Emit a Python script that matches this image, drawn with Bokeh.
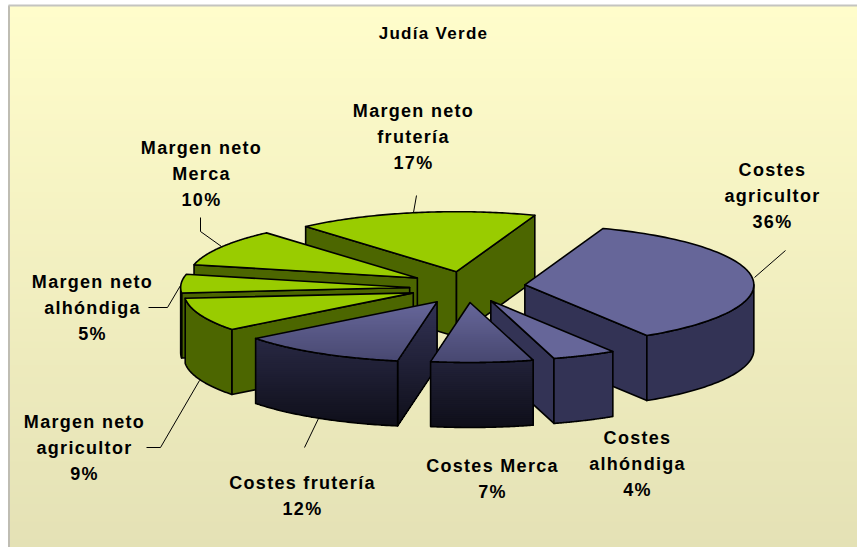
import numpy as np
from bokeh.plotting import figure
from bokeh.models import Range1d
from bokeh.core.properties import value
from bokeh.embed import file_html
from bokeh.resources import INLINE

# ---- data
categories = ["Costes agricultor", "Costes alhóndiga", "Costes Merca", "Costes frutería",
              "Margen neto agricultor", "Margen neto alhóndiga", "Margen neto Merca", "Margen neto frutería"]
values = [35.5, 4.5, 7.2, 11.8, 9, 5, 10, 17]
percent_labels = ["36%", "4%", "7%", "12%", "9%", "5%", "10%", "17%"]
title_text = "Judía Verde"

# ---- label layout (line breaks as in the chart)
label_lines = [["Costes", "agricultor"], ["Costes", "alhóndiga"], ["Costes Merca"], ["Costes frutería"],
               ["Margen neto", "agricultor"], ["Margen neto", "alhóndiga"], ["Margen neto", "Merca"], ["Margen neto", "frutería"]]
label_x = [772, 637, 492, 302, 84, 92, 201, 413]
label_y0 = [169, 437, 465, 482, 421, 281, 147, 110]
line_step = 26.3
leaders = [[(754, 277), (785, 250)], [], [], [(318, 418), (304, 447)],
           [(199, 380), (160, 447), (146, 447)], [(180, 285), (167, 307), (148, 307)],
           [(221, 246), (200, 231), (200, 217)], [(413, 212), (416, 195)]]

# ---- pie geometry / style
CX, CY, RX, RY, DEPTH = 465, 288, 229, 60, 65
START = 20.0
explode = [0.265, 0.26, 0.25, 0.24, 0.245, 0.24, 0.26, 0.285]
nudge = [(-1, -2), (1, -2), (1.5, -1), (0, 1), (0, -1), (-1, 0), (3, -2.5), (3, 0)]
draw_order = [7, 0, 6, 5, 4, 3, 1, 2]
gradient_slices = {2, 3}
GY0, GY1 = 302, 428
SPACING = 1.3

def hexmix(a, b, t):
    t = min(max(t, 0), 1)
    return "#%02x%02x%02x" % tuple(int(round(a[i] + (b[i] - a[i]) * t)) for i in range(3))

def clip_below(pts, y0):
    out = []
    n = len(pts)
    for i in range(n):
        a, b = pts[i], pts[(i + 1) % n]
        ia, ib = a[1] >= y0, b[1] >= y0
        if ia:
            out.append(a)
        if ia != ib:
            t = (y0 - a[1]) / (b[1] - a[1])
            out.append((a[0] + (b[0] - a[0]) * t, y0))
    return out

p = figure(width=857, height=547, x_range=Range1d(0, 857), y_range=Range1d(547, 0),
           toolbar_location=None, output_backend="svg", min_border=0,
           x_axis_location=None, y_axis_location=None, outline_line_color=None,
           background_fill_color="#ffffff", border_fill_color=None)
p.grid.visible = False
p.styles = {"letter-spacing": f"{SPACING}px"}

# background gradient
TOP, BOT = (255, 253, 203), (228, 225, 181)
for y in np.arange(5, 547, 6.0):
    p.quad(left=9, right=857, top=y, bottom=547, line_color=None,
           fill_color=hexmix(TOP, BOT, (y - 5) / 542))
p.line([8.5, 8.5], [5, 547], line_color="#bfbdb3", line_width=2)
p.line([8, 857], [5, 5], line_color="#c4c4c0", line_width=2)

def face(pts, fill, grad=None):
    xs = [q[0] for q in pts]
    ys = [q[1] for q in pts]
    if grad is None:
        p.patch(xs, ys, fill_color=fill, line_color=None)
    else:
        c0, c1, y0, y1 = grad
        lo, hi = min(ys), max(ys)
        for y in np.arange(lo, hi, 2.0):
            c = clip_below(pts, y)
            if len(c) >= 3:
                p.patch([q[0] for q in c], [q[1] for q in c], line_color=None,
                        fill_color=hexmix(c0, c1, (y - y0) / (y1 - y0)))
    p.patch(xs + xs[:1], ys + ys[:1], fill_alpha=0, line_color="#000000", line_width=1.6,
            line_join="round")

total = sum(values)
edges = START + np.cumsum([0] + values) * 360.0 / total

def ell(cx, cy, deg):
    r = np.radians(deg)
    return cx + RX * np.sin(r), cy - RY * np.cos(r)

for i in draw_order:
    t1, t2 = edges[i], edges[i + 1]
    mid = (t1 + t2) / 2
    ax, ay = ell(CX, CY, mid)
    ax, ay = CX + (ax - CX) * explode[i] + nudge[i][0], CY + (ay - CY) * explode[i] + nudge[i][1]
    green = i >= 4
    top_col = "#99cc00" if green else "#666699"
    wall_col = "#4c6600" if green else "#333355"
    g_top = g_wall = None
    if i in gradient_slices:
        g_top = ((102, 102, 153), (70, 70, 110), GY0, 364)
        g_wall = ((50, 50, 84), (14, 14, 24), GY0, GY1)
    # flat walls
    if np.sin(np.radians(t1)) < 0:
        x, y = ell(ax, ay, t1)
        face([(ax, ay), (x, y), (x, y + DEPTH), (ax, ay + DEPTH)], wall_col, g_wall)
    if np.sin(np.radians(t2)) > 0:
        x, y = ell(ax, ay, t2)
        face([(ax, ay), (x, y), (x, y + DEPTH), (ax, ay + DEPTH)], wall_col, g_wall)
    # curved wall
    a, b = max(t1, 90.0), min(t2, 270.0)
    if b > a:
        th = np.linspace(a, b, 60)
        up = [ell(ax, ay, d) for d in th]
        face(up + [(q[0], q[1] + DEPTH) for q in reversed(up)], wall_col, g_wall)
    # top face
    th = np.linspace(t1, t2, 80)
    face([(ax, ay)] + [ell(ax, ay, d) for d in th], top_col, g_top)

# leaders
for pts in leaders:
    if pts:
        p.line([q[0] for q in pts], [q[1] for q in pts], line_color="#000000", line_width=1)

# labels (text is placed before the inherited letter-spacing is applied, hence the shift)
p.text([433 - len(title_text) * SPACING / 2], [33], text=[title_text], text_font=value("Liberation Sans"),
       text_font_style="bold", text_font_size="17px", text_align="center", text_baseline="middle",
       text_color="#000000")
tx, ty, tt = [], [], []
for i, lines in enumerate(label_lines):
    rows = lines + [percent_labels[i]]
    for k, s in enumerate(rows):
        tx.append(label_x[i] - len(s) * SPACING / 2); ty.append(label_y0[i] + k * line_step); tt.append(s)
p.text(tx, ty, text=tt, text_font=value("Liberation Sans"), text_font_style="bold",
       text_font_size="18px", text_align="center", text_baseline="middle", text_color="#000000")

open("out.html", "w").write(file_html(p, INLINE))
